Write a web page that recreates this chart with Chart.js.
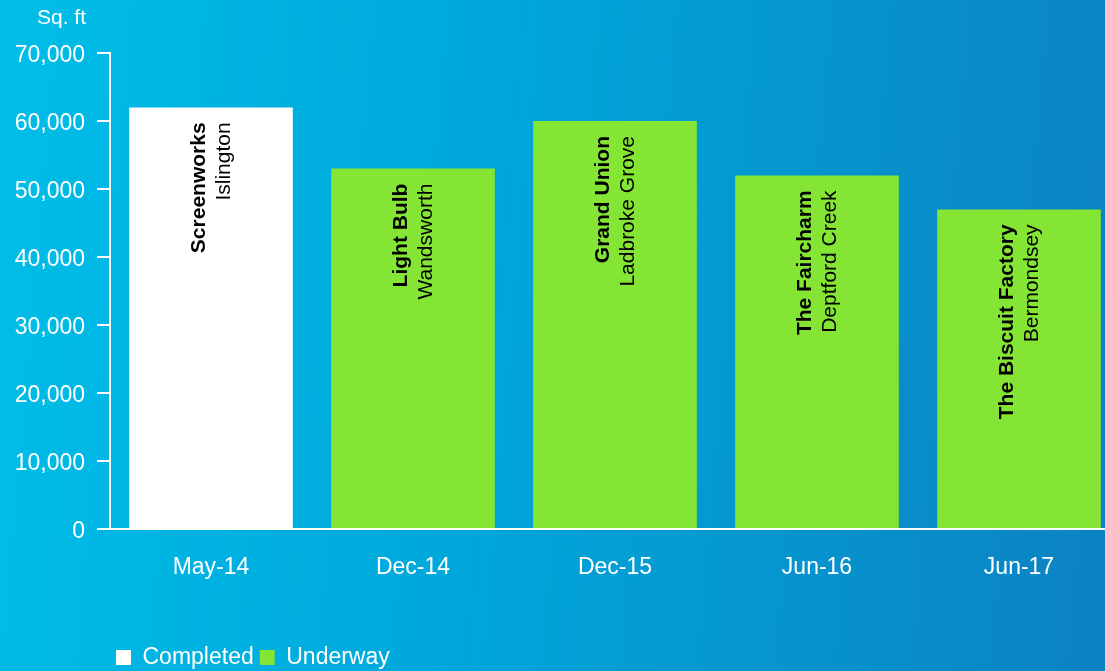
<!DOCTYPE html>
<html>
<head>
<meta charset="utf-8">
<script src="https://cdn.jsdelivr.net/npm/chart.js@4"></script>
<style>
  html, body { margin: 0; padding: 0; overflow: hidden; width: 1105px; height: 671px; }
  body { background: linear-gradient(95deg, #00bee8 0%, #00a6da 45%, #0c82c2 100%); }
  canvas { display: block; }
</style>
</head>
<body>
<canvas id="c" width="1120" height="671"></canvas>
<script>
const categories = ['May-14', 'Dec-14', 'Dec-15', 'Jun-16', 'Jun-17'];
const completed = [62000, null, null, null, null];
const underway = [null, 53000, 60000, 52000, 47000];
const projectNames = ['Screenworks', 'Light Bulb', 'Grand Union', 'The Faircharm', 'The Biscuit Factory'];
const projectLocations = ['Islington', 'Wandsworth', 'Ladbroke Grove', 'Deptford Creek', 'Bermondsey'];
const yTicks = [0, 10000, 20000, 30000, 40000, 50000, 60000, 70000];
const unitLabel = 'Sq. ft';

const FONT = '"Liberation Sans", Arial, Helvetica, sans-serif';
const GREEN = '#84e534';

const barLabels = {
  id: 'barLabels',
  afterDatasetsDraw(chart) {
    const ctx = chart.ctx;
    chart.data.datasets.forEach((ds, di) => {
      const meta = chart.getDatasetMeta(di);
      meta.data.forEach((el, i) => {
        if (ds.data[i] == null) return;
        ctx.save();
        ctx.translate(el.x, el.y + 15);
        ctx.rotate(-Math.PI / 2);
        ctx.textAlign = 'right';
        ctx.textBaseline = 'middle';
        ctx.fillStyle = '#000';
        ctx.font = 'bold 21px ' + FONT;
        ctx.fillText(projectNames[i], 0, -12);
        ctx.font = '21px ' + FONT;
        ctx.fillText(projectLocations[i], 0, 13);
        ctx.restore();
      });
    });
  }
};

const unitPlugin = {
  id: 'unitPlugin',
  afterDraw(chart) {
    const ctx = chart.ctx;
    ctx.save();
    ctx.fillStyle = '#fff';
    ctx.font = '21px ' + FONT;
    ctx.textAlign = 'right';
    ctx.textBaseline = 'middle';
    ctx.fillText(unitLabel, 86, 18);
    ctx.restore();
  }
};

new Chart(document.getElementById('c'), {
  type: 'bar',
  data: {
    labels: categories,
    datasets: [
      { label: 'Completed', data: completed, backgroundColor: '#ffffff', borderWidth: 0 },
      { label: 'Underway', data: underway, backgroundColor: GREEN, borderWidth: 0 }
    ]
  },
  options: {
    responsive: false,
    animation: false,
    devicePixelRatio: 1,
    layout: { padding: { top: 53, right: 0, left: 0, bottom: -8 } },
    datasets: { bar: { barPercentage: 0.9, categoryPercentage: 0.9 } },
    scales: {
      x: {
        stacked: true,
        grid: { display: true, drawOnChartArea: false, drawTicks: false },
        border: { display: true, color: '#ffffff', width: 2 },
        ticks: { color: '#ffffff', font: { family: FONT, size: 23 }, padding: 25 },
        afterFit(scale) { scale.height = 111; }
      },
      y: {
        stacked: true,
        min: 0,
        max: 70000,
        afterBuildTicks(scale) { scale.ticks = yTicks.map(v => ({ value: v })); },
        grid: { display: true, drawOnChartArea: false, drawTicks: true, tickLength: 13, color: '#ffffff', lineWidth: 2 },
        border: { display: true, color: '#ffffff', width: 2 },
        ticks: {
          color: '#ffffff',
          font: { family: FONT, size: 23 },
          padding: 12,
          labelOffset: 3,
          callback: v => v.toLocaleString('en-US')
        },
        afterFit(scale) { scale.width = 110; }
      }
    },
    plugins: {
      tooltip: { enabled: false },
      legend: {
        position: 'bottom',
        align: 'start',
        fullSize: false,
        labels: {
          color: '#ffffff',
          font: { family: FONT, size: 23 },
          boxWidth: 15,
          boxHeight: 15,
          padding: 6
        }
      }
    }
  },
  plugins: [barLabels, unitPlugin]
});
</script>
</body>
</html>
